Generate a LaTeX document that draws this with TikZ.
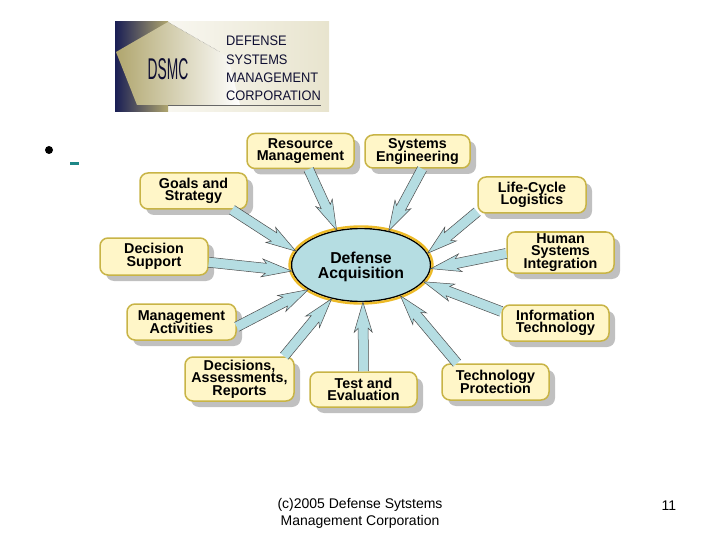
\documentclass[tikz,border=0pt]{standalone}
\usepackage{fontspec}
\setmainfont{Liberation Sans}
\usepackage{tikz}
\usetikzlibrary{arrows.meta,positioning,calc,shadows,shapes.geometric}
\definecolor{creme}{RGB}{255,246,200}
\definecolor{ocre}{RGB}{200,180,70}
\definecolor{ombre}{RGB}{192,192,192}
\definecolor{cyanpale}{RGB}{181,221,226}
\definecolor{orjaune}{RGB}{236,186,40}
\definecolor{marine}{RGB}{25,30,85}
\definecolor{encre}{RGB}{15,15,50}
\definecolor{olive}{RGB}{176,166,110}
\definecolor{sable}{RGB}{232,228,206}
\definecolor{sarcelle}{RGB}{30,135,135}
\newcommand{\police}[2]{\fontsize{#1}{#2}\selectfont\lineskiplimit=-8pt\relax}
\tikzset{
	theme/.style={draw=ocre,line width=1.5pt,fill=creme,rounded corners=8pt,
		inner sep=0pt,align=center,
		font=\police{14.3}{12.6}\bfseries,
		drop shadow={shadow xshift=6pt,shadow yshift=-6pt,fill=ombre,opacity=1}},
	pied/.style={font=\police{14}{17},align=center,inner sep=0pt},
	fleche/.style={draw=black!70,line width=0.5pt,fill=cyanpale,line join=miter}
}

\begin{document}
\begin{tikzpicture}[x=1pt,y=-1pt]
	\useasboundingbox (0,0) rectangle (720,540);

	%% logo
	\shade[left color=white!70!sable,right color=sable] (168,22) rectangle (329,112);
	\shade[left color=marine,right color=olive] (115,22) rectangle (168,112);
	\path[left color=olive,right color=white] (116,52)--(168,22)--(228,57)--(240,105)--(137,105)--cycle;
	\draw[black!50,densely dotted] (168,22)--(220,52);
	\draw[black!60,thin] (168,105)--(321,105);
	\node[encre,inner sep=0pt,font=\police{30}{30},xscale=0.46] (sigle) at (168,69) {DSMC};
	\node[encre,inner sep=0pt,align=left,anchor=west,xscale=0.93,
		font=\police{13.8}{18.2}] (raison) at (226,68.5)
		{DEFENSE\\SYSTEMS\\MANAGEMENT\\CORPORATION};

	%% puce et lien
	\fill (49,150) circle (4);
	\fill[sarcelle] (70,162) rectangle (79,165);

	%% ellipse centrale
	\node[draw=black,line width=1.4pt,fill=cyanpale,ellipse,minimum width=139pt,minimum height=73pt,
		inner sep=0pt,align=center,font=\police{15.8}{14.5}\bfseries] (acq) at (361,265)
		{\rule{0pt}{15pt}Defense\\Acquisition};
	\draw[orjaune,line width=2.4pt] (361,265) ellipse (71.5 and 38.5);

	%% themes
	\node[theme,minimum width=107pt,minimum height=35pt] (ressource) at (300.5,151) {Resource\\Management};
	\node[theme,minimum width=105pt,minimum height=33pt] (ingenierie) at (417.5,151.5) {Systems\\Engineering};
	\node[theme,minimum width=107pt,minimum height=36pt] (objectifs) at (193.5,191) {Goals and\\Strategy};
	\node[theme,minimum width=108pt,minimum height=36pt] (logistique) at (532,195) {Life-Cycle\\Logistics};
	\node[theme,minimum width=108pt,minimum height=37pt] (decision) at (154,256.5) {Decision\\Support};
	\node[theme,minimum width=107pt,minimum height=41pt] (humain) at (560.5,252.5) {Human\\Systems\\Integration};
	\node[theme,minimum width=109pt,minimum height=36pt] (gestion) at (181.5,322) {Management\\Activities};
	\node[theme,minimum width=107pt,minimum height=36pt] (info) at (555.5,323) {Information\\Technology};
	\node[theme,minimum width=109pt,minimum height=44pt] (rapports) at (239.5,379) {Decisions,\\Assessments,\\Reports};
	\node[theme,minimum width=107pt,minimum height=35pt] (essais) at (363.5,389.5) {Test and\\Evaluation};
	\node[theme,minimum width=107pt,minimum height=36pt] (protection) at (495.5,382) {Technology\\Protection};

	%% fleches vers l'ellipse
	\foreach \src/\ang in {ressource.294/125,ingenierie.285/51,objectifs.334/168,logistique.197/10,
		decision.354/185,humain.181/357,gestion.355/205,info.168/345,rapports.27/229,
		essais.north/273,protection.154/322}{
		\coordinate (pointe) at (acq.\ang);
		\coordinate (base) at (\src);
		\coordinate (col) at ($(pointe)!30pt!(base)$);
		\coordinate (gorge) at ($(pointe)!26pt!(base)$);
		\draw[fleche] ($(base)!5pt!90:(pointe)$) -- ($(gorge)!5pt!-90:(base)$)
			-- ($(col)!9pt!-90:(base)$) -- (pointe) -- ($(col)!9pt!90:(base)$)
			-- ($(gorge)!5pt!90:(base)$) -- ($(base)!5pt!-90:(pointe)$);
	}

	%% pied de page
	\node[pied] (source) at (360,513) {(c)2005 Defense Sytstems\\Management Corporation};
	\node[pied] (numero) at (669,505.5) {11};
\end{tikzpicture}
\end{document}
